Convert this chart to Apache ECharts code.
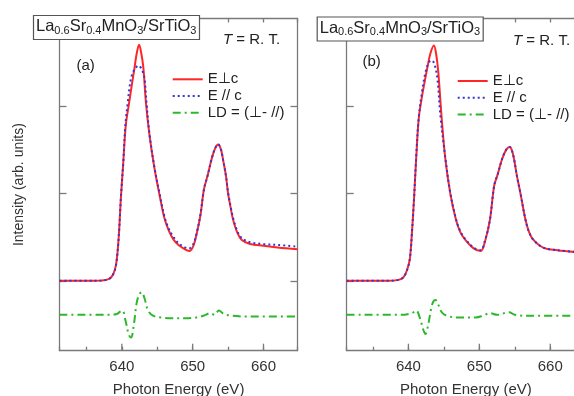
<!DOCTYPE html>
<html>
<head>
<meta charset="utf-8">
<script src="https://cdn.jsdelivr.net/npm/echarts@6/dist/echarts.min.js"></script>
<style>
  html, body { margin: 0; padding: 0; background: #fff; }
  #chart { width: 574px; height: 396px; }
</style>
</head>
<body>
<div id="chart"></div>
<script>
// photon energy (eV) vs intensity, panel (a)
const perpA = [
  [631.2, 0], [636, 0], [637.8, 0.01], [638.5, 0.04], [639.0, 0.12], [639.3, 0.25],
  [639.6, 0.55], [639.86, 0.94], [640.2, 1.35], [640.56, 1.78], [641.0, 2.02],
  [641.41, 2.24], [641.78, 2.43], [642.1, 2.6], [642.44, 2.7], [642.75, 2.6],
  [643.05, 2.43], [643.39, 2.05], [643.9, 1.67], [644.6, 1.29], [645.4, 0.95],
  [646.0, 0.72], [646.6, 0.58], [647.3, 0.47], [648.0, 0.41], [648.7, 0.37],
  [649.5, 0.34], [650.1, 0.4], [650.6, 0.55], [651.1, 0.75], [651.6, 1.05],
  [652.1, 1.2], [652.7, 1.4], [653.2, 1.52], [653.6, 1.56], [654.0, 1.5],
  [654.3, 1.38], [654.7, 1.2], [655.0, 1.0], [655.4, 0.82], [655.7, 0.7],
  [656.3, 0.55], [656.9, 0.47], [658.1, 0.42], [660, 0.4], [662, 0.38], [664.8, 0.36]
]
const parA = [
  [631.2, 0], [636, 0], [637.8, 0.01], [638.5, 0.04], [639.0, 0.12], [639.3, 0.25],
  [639.6, 0.55], [639.86, 0.94], [640.2, 1.35], [640.47, 1.75], [640.85, 2.05],
  [641.31, 2.32], [641.8, 2.42], [642.35, 2.46], [642.8, 2.42], [643.19, 2.32],
  [643.47, 2.05], [643.9, 1.68], [644.6, 1.3], [645.4, 0.97], [646.0, 0.74],
  [646.6, 0.6], [647.3, 0.5], [648.0, 0.43], [648.7, 0.39], [649.5, 0.37],
  [650.1, 0.42], [650.6, 0.56], [651.1, 0.76], [651.6, 1.05], [652.1, 1.2],
  [652.7, 1.4], [653.2, 1.52], [653.6, 1.56], [654.0, 1.5], [654.3, 1.38],
  [654.7, 1.2], [655.0, 1.01], [655.4, 0.83], [655.7, 0.72], [656.3, 0.57],
  [656.9, 0.49], [658.1, 0.44], [660, 0.42], [662, 0.41], [664.8, 0.39]
]
const ldA = [
  [631.2, -0.39], [638, -0.39], [639.3, -0.38], [639.8, -0.35], [640.1, -0.34],
  [640.5, -0.45], [641.0, -0.62], [641.3, -0.65], [641.7, -0.5], [642.1, -0.25],
  [642.5, -0.15], [642.8, -0.13], [643.2, -0.2], [643.7, -0.34], [644.4, -0.4],
  [645.5, -0.42], [647, -0.43], [649, -0.43], [650.5, -0.42], [651.5, -0.4],
  [652.5, -0.37], [653.1, -0.39], [653.7, -0.34], [654.4, -0.38], [655.5, -0.4],
  [658, -0.41], [664.8, -0.41]
]

// panel (b)
const perpB = [
  [631.3, 0], [637, 0], [638.6, 0.01], [639.3, 0.04], [639.8, 0.12], [640.2, 0.25],
  [640.5, 0.55], [640.8, 0.95], [641.1, 1.4], [641.45, 1.85], [641.9, 2.1],
  [642.3, 2.28], [642.7, 2.45], [643.1, 2.6], [643.6, 2.69], [643.9, 2.6],
  [644.2, 2.4], [644.7, 1.85], [645.2, 1.4], [645.9, 1.0], [646.7, 0.7],
  [647.3, 0.56], [648.0, 0.47], [649.2, 0.37], [650.2, 0.34], [650.8, 0.45],
  [651.5, 0.7], [652.1, 1.09], [652.6, 1.22], [653.2, 1.39], [653.8, 1.5],
  [654.3, 1.53], [654.6, 1.49], [654.9, 1.39], [655.3, 1.2], [655.8, 1.0],
  [656.5, 0.7], [657.0, 0.56], [657.6, 0.47], [659, 0.38], [661, 0.35], [664.9, 0.32]
]
const parB = [
  [631.3, 0], [637, 0], [638.6, 0.01], [639.3, 0.04], [639.8, 0.12], [640.2, 0.25],
  [640.5, 0.55], [640.8, 0.95], [641.1, 1.42], [641.45, 1.86], [641.9, 2.15],
  [642.4, 2.38], [642.9, 2.5], [643.3, 2.52], [643.7, 2.47], [644.1, 2.3],
  [644.5, 1.9], [645.2, 1.41], [645.9, 1.01], [646.7, 0.71], [647.3, 0.57],
  [648.0, 0.48], [649.2, 0.38], [650.2, 0.35], [650.8, 0.46], [651.5, 0.7],
  [652.1, 1.09], [652.6, 1.22], [653.2, 1.39], [653.8, 1.5], [654.3, 1.53],
  [654.6, 1.49], [654.9, 1.39], [655.3, 1.2], [655.8, 1.0], [656.5, 0.7],
  [657.0, 0.56], [657.6, 0.47], [659, 0.38], [661, 0.35], [664.9, 0.32]
]
const ldB = [
  [631.3, -0.39], [639, -0.39], [640.5, -0.37], [641.1, -0.34], [641.6, -0.42],
  [642.1, -0.56], [642.4, -0.61], [642.8, -0.5], [643.2, -0.32], [643.5, -0.24],
  [643.8, -0.22], [644.2, -0.27], [644.7, -0.36], [645.4, -0.4], [647, -0.42],
  [649.5, -0.42], [650.5, -0.4], [651.5, -0.37], [652.5, -0.39], [653.5, -0.37],
  [654.2, -0.36], [655, -0.39], [657, -0.4], [664.9, -0.4]
]

const seriesNames = ['E⊥c', 'E // c', 'LD = (⊥- //)']
const majorTicks = [640, 650, 660]
const minorTicks = [635, 645, 655]
const yTicks = [0, 1, 2]
const Y_MIN = -0.8
const Y_MAX = 3
const FONT = '"Liberation Sans", Arial, sans-serif'
const AXIS_COLOR = '#7a7a7a'

const chart = echarts.init(document.getElementById('chart'), null, { renderer: 'canvas' })

const xAxes = []
const yAxes = []

function addPanelAxes(gi, xmin, xmax, yName) {
  const line = { show: true, onZero: false, lineStyle: { color: AXIS_COLOR, width: 1.3 } }
  const tickStyle = { color: AXIS_COLOR, width: 1.3 }
  xAxes.push({
    gridIndex: gi, type: 'value', min: xmin, max: xmax, position: 'bottom',
    axisLine: line,
    axisTick: { show: true, inside: true, length: 4, lineStyle: tickStyle },
    axisLabel: { customValues: majorTicks, fontSize: 15, margin: 9, color: '#333', fontFamily: FONT },
    splitLine: { show: false },
    name: 'Photon Energy (eV)', nameLocation: 'middle', nameGap: 32,
    nameTextStyle: { fontSize: 15, color: '#333', fontFamily: FONT }
  })
  xAxes.push({
    gridIndex: gi, type: 'value', min: xmin, max: xmax, position: 'top',
    axisLine: line,
    axisTick: { show: true, inside: true, length: 4, lineStyle: tickStyle },
    axisLabel: { show: false }, splitLine: { show: false }
  })
  yAxes.push({
    gridIndex: gi, type: 'value', min: Y_MIN, max: Y_MAX, position: 'left',
    axisLine: line,
    axisTick: { show: true, inside: true, length: 7, customValues: yTicks, lineStyle: tickStyle },
    axisLabel: { show: false }, splitLine: { show: false },
    name: yName, nameLocation: 'middle', nameGap: 33,
    nameTextStyle: { fontSize: 14, color: '#333', fontFamily: FONT }
  })
  yAxes.push({
    gridIndex: gi, type: 'value', min: Y_MIN, max: Y_MAX, position: 'right',
    axisLine: line,
    axisTick: { show: true, inside: true, length: 7, customValues: yTicks, lineStyle: tickStyle },
    axisLabel: { show: false }, splitLine: { show: false }
  })
}

addPanelAxes(0, 631.2, 664.8, 'Intensity (arb. units)')
addPanelAxes(1, 631.3, 664.9, '')

// longer major x ticks on the bottom frame, placed through the axis scale
function majorTickSeries(gi) {
  return {
    type: 'custom', xAxisIndex: gi * 2, yAxisIndex: gi * 2,
    data: majorTicks.map(v => [v, Y_MIN]),
    encode: { x: 0, y: 1 },
    silent: true, clip: false, z: 5,
    renderItem: function (params, api) {
      const pb = api.coord([api.value(0), Y_MIN])
      return {
        type: 'line',
        shape: { x1: pb[0], y1: pb[1], x2: pb[0], y2: pb[1] - 7 },
        style: { stroke: AXIS_COLOR, lineWidth: 1.3 }
      }
    }
  }
}

function panelSeries(gi, perp, par, ld) {
  const xi = gi * 2
  const yi = gi * 2
  const common = { type: 'line', xAxisIndex: xi, yAxisIndex: yi, symbol: 'none', smooth: 0.35, animation: false }
  return [
    Object.assign({}, common, { name: seriesNames[0], data: perp, lineStyle: { color: '#ff2626', width: 2 }, itemStyle: { color: '#ff2626' } }),
    Object.assign({}, common, { name: seriesNames[1], data: par, lineStyle: { color: '#3434d8', width: 2, type: [2, 3] }, itemStyle: { color: '#3434d8' } }),
    Object.assign({}, common, { name: seriesNames[2], data: ld, lineStyle: { color: '#2cb82c', width: 2, type: [8, 4, 2, 4] }, itemStyle: { color: '#2cb82c' } }),
    majorTickSeries(gi)
  ]
}

const boxTitle = '{m|La}{s|0.6}{m|Sr}{s|0.4}{m|MnO}{s|3}{m|/SrTiO}{s|3}'
const boxRich = {
  m: { fontSize: 16.5, fontWeight: 'normal', lineHeight: 18, padding: [0, 0, 2, 0], verticalAlign: 'top', color: '#222', fontFamily: FONT },
  s: { fontSize: 11, fontWeight: 'normal', lineHeight: 11, verticalAlign: 'bottom', color: '#222', fontFamily: FONT }
}

function legendAt(left, top) {
  return {
    left: left, top: top, orient: 'vertical', data: seriesNames, padding: 0,
    itemWidth: 30, itemHeight: 10, itemGap: 0.7,
    itemStyle: { opacity: 0 },
    textStyle: { fontSize: 15, lineHeight: 16, color: '#222', fontFamily: FONT },
    selectedMode: false
  }
}

function tempText(x, y) {
  return {
    type: 'text', left: x, top: y, z: 10,
    style: {
      text: '{i|T} = R. T.',
      rich: {
        i: { fontSize: 15, fontStyle: 'italic', fill: '#222', fontFamily: FONT }
      },
      fontSize: 15, fill: '#222', fontFamily: FONT
    }
  }
}

const option = {
  backgroundColor: '#fff',
  animation: false,
  grid: [
    { left: 59.5, right: 276.5, top: 18.5, bottom: 45.3, outerBoundsMode: 'none' },
    { left: 346.7, right: -11, top: 18.5, bottom: 45.3, outerBoundsMode: 'none' }
  ],
  title: [
    { text: boxTitle, left: 33, top: 15, padding: [3, 3, 3, 3], backgroundColor: '#fff', borderColor: '#555', borderWidth: 1.2, z: 20, textStyle: { fontWeight: 'normal', rich: boxRich } },
    { text: boxTitle, left: 316.7, top: 16.5, padding: [3, 3, 3, 3], backgroundColor: '#fff', borderColor: '#555', borderWidth: 1.2, z: 20, textStyle: { fontWeight: 'normal', rich: boxRich } }
  ],
  legend: [legendAt(171.7, 71.3), legendAt(456.7, 73)],
  xAxis: xAxes,
  yAxis: yAxes,
  graphic: [
    tempText(223, 32),
    tempText(513, 33.5),
    { type: 'text', left: 76.5, top: 58, style: { text: '(a)', fontSize: 15, fill: '#222', fontFamily: FONT } },
    { type: 'text', left: 362.5, top: 54.5, style: { text: '(b)', fontSize: 15, fill: '#222', fontFamily: FONT } }
  ],
  series: panelSeries(0, perpA, parA, ldA).concat(panelSeries(1, perpB, parB, ldB))
}

chart.setOption(option)
</script>
</body>
</html>
